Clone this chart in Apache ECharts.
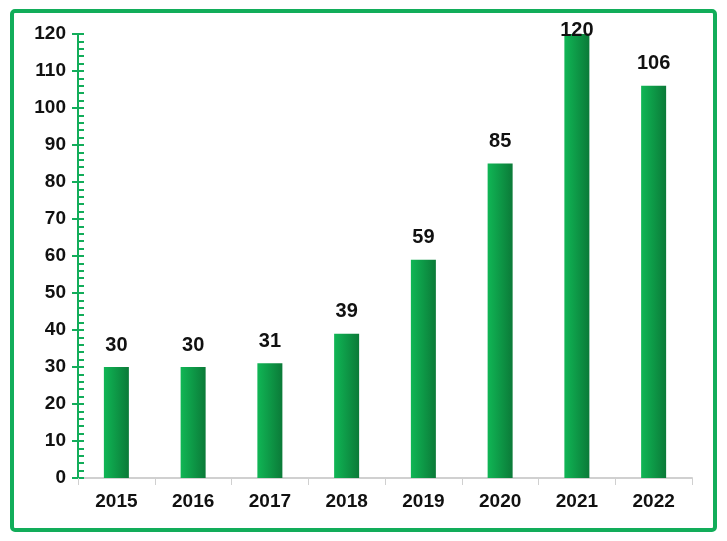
<!DOCTYPE html>
<html><head><meta charset="utf-8">
<script src="https://cdn.jsdelivr.net/npm/echarts@6/dist/echarts.min.js"></script>
<style>html,body{margin:0;padding:0;background:#fff}#c{width:727px;height:541px}</style>
</head><body><div id="c"></div>
<script>
const categories = ['2015','2016','2017','2018','2019','2020','2021','2022'];
const values = [30,30,31,39,59,85,120,106];
const chart = echarts.init(document.getElementById('c'));
const yBase = {type:'value',min:0,max:120,interval:10,position:'left'};
const data = values.map((v,i)=> i===6 ? {value:v,label:{distance:-6}} : v);
chart.setOption({
  animation:false,
  graphic:[{type:'rect',shape:{x:12,y:11,width:703,height:519,r:3},style:{fill:'none',stroke:'#12ad5a',lineWidth:4}}],
  grid:{left:78,right:35,top:34,bottom:63},
  xAxis:{type:'category',data:categories,
    axisLine:{lineStyle:{color:'#d0d0d0',width:2}},
    axisTick:{show:true,length:7,lineStyle:{color:'#d0d0d0'}},
    axisLabel:{color:'#111',fontWeight:'bold',fontSize:19,fontFamily:'Liberation Sans, Arial',margin:14}},
  yAxis:[
    Object.assign({},yBase,{
      axisLine:{show:true,lineStyle:{color:'#12ad5a',width:2}},
      axisTick:{show:true,length:6,lineStyle:{color:'#12ad5a',width:2}},
      splitLine:{show:false},
      axisLabel:{color:'#111',fontWeight:'bold',fontSize:19,fontFamily:'Liberation Sans, Arial',margin:12}}),
    Object.assign({},yBase,{
      axisLine:{show:false},
      axisTick:{show:true,inside:true,length:6,lineStyle:{color:'#12ad5a',width:2}},
      minorTick:{show:true,splitNumber:5,length:6,lineStyle:{color:'#12ad5a',width:2}},
      splitLine:{show:false},axisLabel:{show:false}})
  ],
  series:[{type:'bar',data:data,barWidth:25,
    itemStyle:{color:new echarts.graphic.LinearGradient(0,0,1,0,[{offset:0,color:'#10b655'},{offset:1,color:'#0b7a38'}])},
    label:{show:true,position:'top',distance:12,color:'#111',fontWeight:'bold',fontSize:20,fontFamily:'Liberation Sans, Arial'}}]
});
</script></body></html>
